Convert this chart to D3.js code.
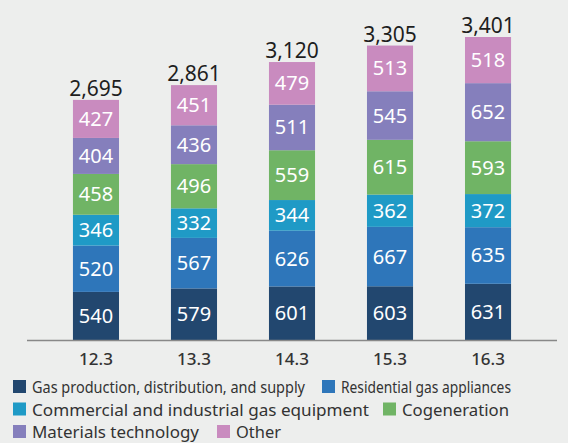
<!DOCTYPE html>
<html>
<head>
<meta charset="utf-8">
<script src="https://cdn.jsdelivr.net/npm/d3@7"></script>
<style>
  body { margin: 0; background: #edeeed; }
  svg { display: block; font-family: "Noto Sans", "Open Sans", sans-serif; }
</style>
</head>
<body>
<div id="chart"></div>
<script>
var years = ['12.3', '13.3', '14.3', '15.3', '16.3'];
var seriesNames = ['Gas production, distribution, and supply', 'Residential gas appliances',
  'Commercial and industrial gas equipment', 'Cogeneration', 'Materials technology', 'Other'];
var gasSupply = [540, 579, 601, 603, 631];
var residential = [520, 567, 626, 667, 635];
var commercial = [346, 332, 344, 362, 372];
var cogeneration = [458, 496, 559, 615, 593];
var materials = [404, 436, 511, 545, 652];
var other = [427, 451, 479, 513, 518];
var totals = [2695, 2861, 3120, 3305, 3401];
var colors = ['#22476f', '#2e76ba', '#1f9ac6', '#70b465', '#857fbc', '#c98bbf'];

var seriesValues = [gasSupply, residential, commercial, cogeneration, materials, other];
var table = years.map(function(y, i) {
  var row = { year: y };
  seriesNames.forEach(function(n, k) { row[n] = seriesValues[k][i]; });
  return row;
});
var stacked = d3.stack().keys(seriesNames)(table);

var width = 568, height = 443;
var svg = d3.select('#chart').append('svg').attr('width', width).attr('height', height);

var x = d3.scaleBand().domain(years).range([21, 563]).paddingInner(0.53).paddingOuter(0.53);
var y = d3.scaleLinear().domain([0, 3401]).range([340, 37]);

var layers = svg.selectAll('g.layer').data(stacked).enter().append('g')
  .attr('class', 'layer')
  .style('fill', function(d, i) { return colors[i]; });

layers.selectAll('rect').data(function(d) { return d; }).enter().append('rect')
  .attr('x', function(d) { return x(d.data.year); })
  .attr('y', function(d) { return y(d[1]); })
  .attr('width', x.bandwidth())
  .attr('height', function(d) { return y(d[0]) - y(d[1]); });

layers.selectAll('text').data(function(d) { return d; }).enter().append('text')
  .attr('x', function(d) { return x(d.data.year) + x.bandwidth() / 2; })
  .attr('y', function(d) { return (y(d[0]) + y(d[1])) / 2 + 7; })
  .attr('text-anchor', 'middle')
  .style('fill', '#fff')
  .style('font-size', '20px')
  .text(function(d) { return d[1] - d[0]; });

svg.selectAll('text.total').data(years).enter().append('text')
  .attr('class', 'total')
  .attr('x', function(d) { return x(d) + x.bandwidth() / 2; })
  .attr('y', function(d, i) { return y(totals[i]) - 4; })
  .attr('text-anchor', 'middle')
  .style('fill', '#1e1e1e')
  .style('font-size', '21px')
  .text(function(d, i) { return d3.format(',')(totals[i]); });

var axis = svg.append('g').attr('transform', 'translate(0,340)')
  .call(d3.axisBottom(x).tickSize(0).tickPadding(13));
axis.select('.domain').attr('d', 'M27,0.5H557').style('stroke', '#888').style('stroke-width', 1.5);
axis.selectAll('text').style('font-size', '17px').style('font-weight', 500)
  .style('fill', '#333').style('font-family', '"Noto Sans", sans-serif');

// legend rows
var legendRows = [[0, 1], [2, 3], [4, 5]];
var legendX = [[13, 322], [13, 383], [13, 217]];
var legendW = [[273, 170], [337, 107], [167, 45]];
legendRows.forEach(function(row, r) {
  row.forEach(function(k, j) {
    var g = svg.append('g').attr('transform', 'translate(' + legendX[r][j] + ',' + (380 + r * 22.5) + ')');
    g.append('rect').attr('width', 13).attr('height', 13).style('fill', colors[k]);
    g.append('text').attr('x', 19).attr('y', 13)
      .attr('textLength', legendW[r][j]).attr('lengthAdjust', 'spacingAndGlyphs')
      .style('font-size', '17px').style('fill', '#333')
      .text(seriesNames[k]);
  });
});
</script>
</body>
</html>
